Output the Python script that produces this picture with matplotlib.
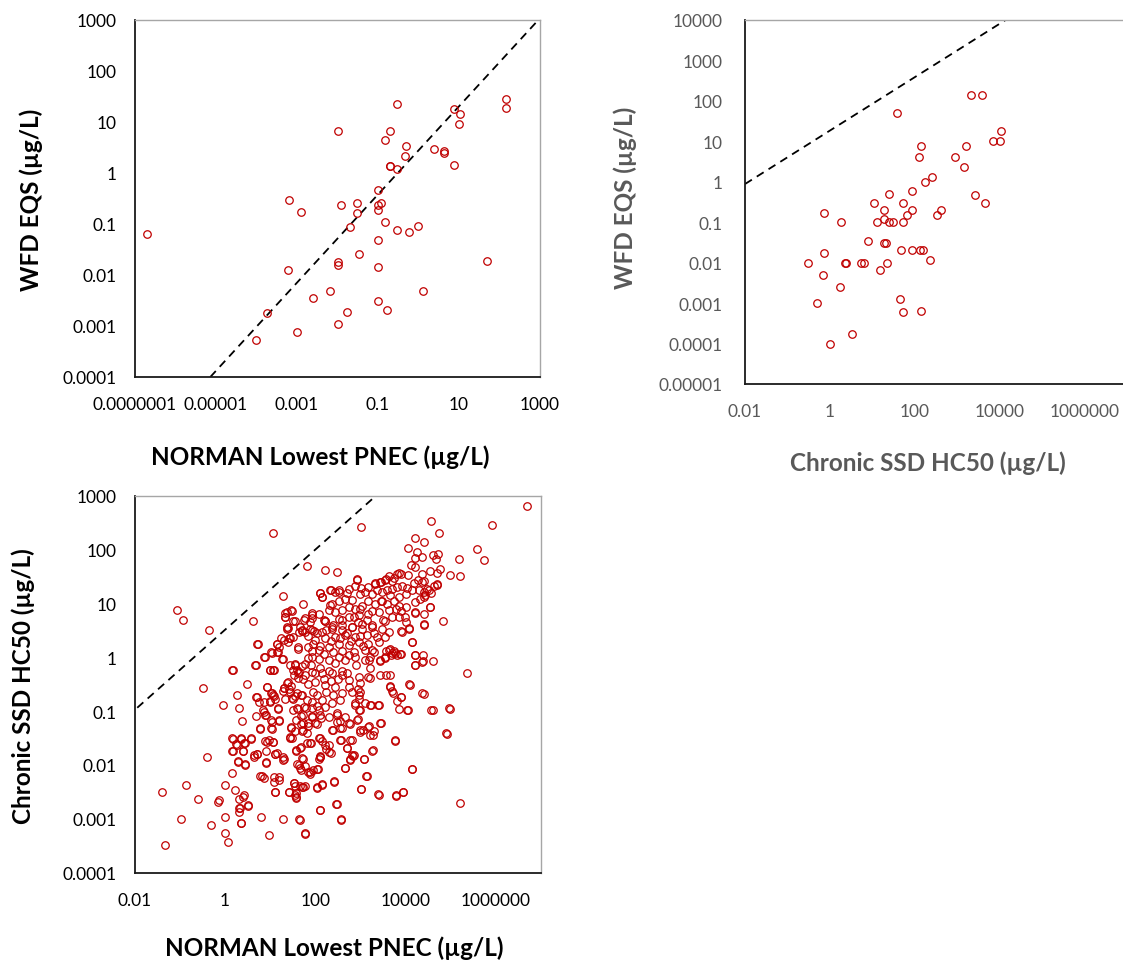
import numpy as np
import matplotlib
matplotlib.use("Agg")
import matplotlib.pyplot as plt
from matplotlib.ticker import FixedLocator, NullLocator

plt.rcParams['font.family'] = ['Lato', 'DejaVu Sans']

RED = "#C00000"
GREY_TXT = "#595959"
W, H = 1123, 962

# ── panel 1 : NORMAN lowest PNEC vs WFD EQS (µg/L) ─────────────────────
p1_pnec = [2e-7, 0.0102, 0.30, 0.20, 0.15, 0.51, 0.48, 0.20, 0.20, 0.30,
           2.4, 4.2, 4.2, 7.6, 10.5, 10.3, 7.5, 145, 145, 50,
           0.10, 0.10, 0.10, 0.123, 0.031, 0.031, 0.0123, 0.0204, 0.15, 0.30,
           0.60, 1.0, 0.10, 0.035, 0.0102, 0.0102, 0.10, 0.00066, 0.0013, 0.0006,
           0.0066, 0.0025, 0.00018, 0.0001, 0.00103, 0.0102, 0.0174, 0.10, 0.17, 1.29]
p1_eqs = [0.062, 6.6, 22, 6.5, 4.4, 3.4, 2.1, 1.39, 1.35, 1.21,
          2.9, 2.7, 2.5, 17.5, 14, 9.2, 1.45, 28, 18.7, 0.019,
          0.46, 0.23, 0.19, 0.26, 0.26, 0.16, 0.23, 0.087, 0.11, 0.076,
          0.068, 0.089, 0.049, 0.026, 0.018, 0.0155, 0.014, 0.30, 0.17, 0.0126,
          0.0049, 0.0035, 0.0018, 0.00054, 0.00076, 0.00107, 0.0019, 0.0031, 0.0021, 0.0048]
p1_line_x = [7.4e-6, 870]
p1_line_y = [1e-4, 950]

# ── panel 2 : chronic SSD HC50 vs WFD EQS (µg/L) ───────────────────────
p2_hc50 = [38, 2190, 3900, 10700, 7100, 10500, 1630, 910, 1480, 145,
           129, 262, 176, 89, 25, 2630, 4460, 11, 52, 18.5,
           85, 430, 330, 65, 19.5, 13, 25, 31, 54, 0.74,
           1.86, 8, 19.5, 21, 48, 85, 135, 158, 235, 0.74,
           0.30, 2.3, 2.45, 5.3, 6.5, 22.6, 15.5, 0.70, 1.7, 0.50,
           45, 52, 145, 3.3, 1.0]
p2_eqs = [50, 140, 140, 18, 10, 10, 7.6, 4.2, 2.3, 7.5,
          4.2, 1.3, 0.98, 0.60, 0.51, 0.48, 0.30, 0.30, 0.30, 0.20,
          0.20, 0.20, 0.15, 0.15, 0.12, 0.10, 0.10, 0.10, 0.10, 0.17,
          0.10, 0.035, 0.030, 0.030, 0.020, 0.020, 0.020, 0.020, 0.0118, 0.017,
          0.010, 0.010, 0.010, 0.010, 0.010, 0.010, 0.0066, 0.005, 0.0025, 0.001,
          0.0013, 0.00059, 0.00065, 0.00017, 0.0001]
p2_line_x = [0.01, 14000]
p2_line_y = [0.88, 10000]

# ── panel 3 : NORMAN lowest PNEC vs chronic SSD HC50, log10(µg/L) ──────
p3_pnec_log = [
    6.69, 4.56, 5.92, 1.06, 3.02, 4.74, 4.21, 4.40, 4.06, 5.58,
    4.26, 4.22, 4.37, 4.60, 4.73, 4.67, 5.19, 5.73, 1.83, 2.22,
    2.49, 4.13, 4.21, 4.77, 4.70, 4.55, 4.37, 4.99, 5.21, 3.86,
    4.05, 3.74, 3.57, 3.45, 3.32, 2.93, 4.27, 4.41, 4.70, 4.47,
    4.56, 4.40, 4.54, 4.21, 4.84, 4.40, 3.85, 3.99, 3.90, 4.07,
    4.14, 4.20, 4.38, 4.21, 4.38, 4.60, 5.37, 4.08, 4.37, 4.57,
    4.97, 4.90, 3.77, 4.15, 3.95, 3.80, 5.20, 3.40, 3.01, 3.15,
    3.27, 3.08, 3.28, 3.45, 3.20, 3.05, 2.99, 2.82, 2.81, 2.77,
    2.66, 2.57, 2.70, 2.48, 2.58, 2.41, 2.15, 2.10, 2.03, 1.88,
    2.06, 1.77, 1.65, 1.71, 1.57, 1.58, 1.53, 1.43, 1.28, 0.98,
    1.12, 1.19, 1.08, 0.86, 0.82, 0.77, 0.79, 0.51, 0.42, 0.31,
    0.32, 0.31, 0.35, 0.23, 0.15, 0.00, 0.00, 0.01, 0.07, -0.14,
    -0.15, -0.31, -0.60, -0.85, -0.97, -1.40, -1.33, -0.40, -0.48, -0.05,
    0.16, 0.27, 0.31, 0.39, 0.49, 0.16, 0.24, 0.16, 0.40, 0.35,
    0.44, 0.58, 0.29, 0.44, 0.64, 0.72, 0.77, 0.91, 0.90, 0.98,
    1.06, 1.10, 1.16, 1.30, 1.02, 1.03, 1.21, 0.90, 0.84, 0.69,
    0.70, 0.76, 0.93, 0.99, 1.02, 1.07, 1.17, 1.31, 1.28, 1.39,
    1.10, 0.69, 0.99, 1.06, 0.88, 0.73, 0.62, 1.02, 1.18, 1.27,
    1.21, 1.25, 1.15, 1.34, 1.33, 1.47, 1.39, 1.45, 1.39, 1.28,
    1.73, 1.94, 1.92, 1.77, 1.56, 1.71, 1.65, 1.88, 1.97, 2.11,
    2.15, 2.35, 2.53, 2.32, 2.22, 1.63, 1.92, 1.85, 1.55, 1.59,
    1.64, 1.53, 1.63, 1.47, 1.42, 1.56, 1.68, 1.83, 1.61, 1.49,
    1.79, 1.94, 2.03, 1.69, 1.94, 2.13, 2.05, 1.85, 1.68, 1.47,
    1.56, 1.74, 1.81, 1.45, 1.48, 1.90, 2.10, 2.16, 2.31, 2.24,
    2.34, 2.11, 2.09, 1.68, 1.58, 1.71, 1.65, 1.68, 2.60, 2.56,
    2.48, 2.40, 2.78, 2.94, 2.89, 3.00, 3.23, 3.40, 3.10, 2.96,
    3.00, 2.94, 2.99, 3.21, 3.43, 3.56, 3.65, 3.65, 3.70, 3.81,
    3.89, 3.85, 4.03, 4.06, 3.43, 3.55, 3.67, 3.76, 3.87, 3.56,
    3.65, 3.75, 3.26, 3.19, 3.22,
    # dense core, upper part
    3.89, 3.81, 3.63, 3.55, 3.70, 3.44, 3.33, 3.18, 3.02, 2.93,
    2.89, 2.74, 2.70, 2.52, 2.45, 2.33, 2.11, 2.15, 2.37, 2.52,
    2.67, 2.81, 3.00, 3.11, 3.26, 3.37, 3.48, 3.59, 3.70, 3.81,
    3.92, 4.03, 4.15, 4.29, 4.40, 4.51, 4.63, 4.70, 4.37, 4.18,
    4.00, 3.85, 3.74, 3.59, 3.48, 3.33, 3.18, 3.04, 2.89, 2.74,
    2.59, 2.45, 2.30, 2.08, 1.93, 1.89, 2.22, 2.52, 2.74, 2.96,
    3.18, 3.41, 3.63, 3.78, 4.00, 4.22, 4.33, 4.44, 4.55, 4.22,
    4.40, 4.00, 3.85, 3.55, 3.26, 3.04, 2.81, 2.59, 2.37,
    # dense core, middle
    1.93, 2.15, 2.37, 2.59, 2.81, 3.04, 3.26, 3.48, 3.63, 3.37,
    3.15, 2.89, 2.67, 2.45, 2.22, 2.00, 1.85, 2.08, 2.30, 2.52,
    2.74, 2.96, 3.18, 3.41, 3.55, 3.92, 4.07, 4.15, 4.40, 3.63,
    3.70, 3.81, 3.89, 3.55, 3.44, 3.22, 3.11, 3.30, 2.89, 2.74,
    2.52, 2.30, 2.08, 1.93, 1.78, 4.20, 4.22, 4.37, 3.18, 2.96,
    2.74, 2.59, 2.37, 2.15, 1.93, 2.00, 2.22, 2.45, 2.59, 2.81,
    2.96, 2.89, 2.96, 3.22, 3.41, 3.66, 3.72, 3.89, 4.11, 4.40,
    4.61, 4.99, 4.91, 3.76,
    # dense core, lower
    1.93, 2.08, 2.22, 2.37, 2.48, 2.30, 2.11, 1.93, 1.85, 2.00,
    2.48, 2.67, 2.74, 2.93, 3.00, 3.18, 3.30, 3.44, 3.22, 2.78,
    2.56, 2.37, 2.56, 2.08, 2.22, 1.89, 2.30, 2.70, 3.26, 2.85,
    2.11,
    # filling the core
    1.85, 1.95, 2.05, 2.10, 2.20, 2.25, 2.35, 2.40, 2.45, 2.55,
    2.60, 2.65, 2.70, 2.80, 2.85, 2.90, 3.00, 3.05, 3.10, 1.90,
    2.00, 2.10, 2.20, 2.30, 2.35, 2.50, 2.60, 2.75, 1.85, 1.95,
    2.05, 2.15, 2.25, 2.40, 2.55, 2.70, 2.95, 3.15, 3.30, 3.50,
    3.70, 3.90, 3.25, 3.45, 3.65, 3.00, 2.85, 2.60, 2.40, 2.20,
    # left side of the cloud
    -1.06, -0.92, -0.34, 1.38, 1.49, 1.34, 1.52, 1.76, 1.38, 1.67,
    0.71, 1.15, 1.30, 1.41, 1.52, 1.71, 1.38, 1.78, 0.87, 1.04,
    1.15, 1.28, 1.62, 0.67, 0.17, 1.01, 1.08, 1.45, 1.56, 1.71,
    1.52, 1.63, 1.78, 1.73, 0.93, 1.38, 1.30, 1.45, 1.60, 1.71,
    1.52, 1.34, 1.04, 1.08, 1.01, 0.86, 0.71, 0.86, 0.91, 1.17,
    1.21, 1.04, 0.78, 1.04, 1.52, 1.60, 1.75, 1.73, 1.58, 1.73,
    1.46, 1.71, 1.45, 0.18, 0.36, 0.58, 0.27, 0.43, 0.18, 0.40,
    0.71, 0.93, 1.06, 0.91, 1.12, 1.29, 1.58, 1.67, 1.82,
    # lower part
    0.30, 0.33, 0.36, 0.40, 0.51, 0.44, 0.64, 0.92, 1.08, 1.19,
    1.12, 1.29, 1.43, 1.54, 1.56, 1.56, 1.57, 1.67, 1.73, 1.66,
    1.78, 1.60, 1.73, 1.67, 1.78, 2.11, 2.04, 1.85, 1.89, 1.96,
    2.67, 2.78, 2.83, 3.08, 3.13, 3.01, 3.41, 3.79, 3.94, 4.15,
    2.41, 2.15, 2.04, 2.47, 2.10, 2.58, 1.78]
p3_hc50_log = [
    2.81, 2.53, 2.46, 2.31, 2.42, 2.30, 2.21, 2.14, 2.02, 2.01,
    1.96, 1.85, 1.87, 1.90, 1.91, 1.82, 1.83, 1.80, 1.69, 1.62,
    1.58, 1.71, 1.67, 1.63, 1.57, 1.61, 1.54, 1.52, 1.51, 1.57,
    1.53, 1.47, 1.45, 1.40, 1.38, 1.45, 1.44, 1.41, 1.35, 1.27,
    1.19, 1.12, 0.93, 0.82, 0.67, 0.62, 0.95, 0.75, 0.48, 0.54,
    0.29, 0.04, 0.04, -0.14, -0.07, -0.07, -0.30, -0.50, -0.67, -0.98,
    -0.95, -1.41, -1.54, -2.08, -2.50, -2.56, -2.71, -2.54, -2.45, -2.20,
    -1.72, -1.89, -1.44, -1.23, -1.28, -1.36, -1.39, -1.53, -1.81, -1.90,
    -2.06, -1.53, -1.69, -2.72, -3.01, -2.30, -2.35, -2.84, -2.43, -2.13,
    -2.07, -3.27, -3.01, -2.42, -2.52, -2.60, -2.33, -2.51, -3.00, -3.30,
    -2.51, -2.29, -2.31, -2.24, -2.21, -2.20, -2.96, -2.74, -2.56, -2.64,
    -2.80, -2.88, -3.08, -2.46, -2.16, -2.37, -2.96, -3.26, -3.43, -2.65,
    -2.69, -3.11, -2.64, -2.38, -3.00, -2.50, -3.48, -1.85, -0.58, -0.88,
    -0.23, -0.71, -0.94, -1.19, -0.50, -1.51, -1.62, -1.75, -1.75, -1.50,
    -1.59, -1.51, -1.93, -1.98, -1.82, -1.79, -1.32, -1.95, -1.56, -1.54,
    -1.57, -1.80, -1.78, -1.90, -1.32, -1.17, -1.16, -1.08, -0.99, -1.09,
    -0.74, -0.83, -0.55, -0.81, -0.67, -0.71, -0.95, -0.58, -0.62, -0.46,
    -0.77, -0.15, -0.23, -0.23, 0.00, 0.25, 0.67, 0.09, 0.09, -0.04,
    0.18, 0.36, 0.25, 0.75, 0.82, 0.87, 0.54, 0.35, 0.29, 1.14,
    0.99, 0.82, 0.72, 0.72, 0.67, 0.49, 0.46, 0.52, 0.49, 1.19,
    1.11, 1.25, 1.22, 0.97, 0.67, 0.18, 0.11, -0.02, -0.14, -0.23,
    -0.27, -0.33, -0.39, -0.54, -0.60, -0.73, -0.71, -0.79, -0.96, -0.76,
    -0.95, -0.95, -0.91, -1.10, -1.10, -1.13, -1.25, -1.28, -1.25, -1.30,
    -1.37, -1.36, -1.41, -1.49, -1.51, -1.60, -1.51, -1.56, -1.64, -1.70,
    -1.78, -1.84, -1.90, -1.67, -1.74, -1.87, -2.01, -2.09, -1.32, -1.18,
    -1.08, -1.35, -1.24, -1.14, -0.88, -0.98, -0.88, -0.88, -0.86, -0.78,
    -0.64, -0.59, -0.48, -0.38, -0.34, -0.34, -0.34, -0.54, -0.62, -0.81,
    -0.74, -0.96, -0.99, -0.99, -0.08, -0.02, 0.04, 0.08, 0.06, 0.11,
    0.15, 0.12, 0.14, -0.05, -0.20,
    # dense core, upper part
    1.55, 1.54, 1.50, 1.44, 1.41, 1.39, 1.36, 1.30, 1.29, 1.44,
    1.33, 1.26, 1.20, 1.24, 1.21, 1.24, 1.19, 1.12, 0.99, 1.05,
    1.08, 1.07, 1.18, 1.21, 1.18, 1.24, 1.21, 1.24, 1.27, 1.30,
    1.33, 1.28, 1.24, 1.24, 1.21, 1.24, 1.33, 1.36, 1.39, 1.37,
    1.18, 1.12, 1.05, 0.99, 1.05, 0.99, 1.05, 0.96, 0.90, 0.93,
    0.87, 0.84, 0.87, 0.81, 0.78, 0.65, 0.68, 0.71, 0.74, 0.78,
    0.81, 0.84, 0.87, 0.90, 0.93, 1.02, 1.08, 1.15, 0.93, 0.84,
    0.81, 0.65, 0.74, 0.68, 0.59, 0.62, 0.57, 0.59, 0.57,
    # dense core, middle
    0.50, 0.47, 0.53, 0.50, 0.56, 0.53, 0.56, 0.53, 0.47, 0.38,
    0.41, 0.38, 0.41, 0.38, 0.35, 0.31, 0.19, 0.13, 0.19, 0.25,
    0.22, 0.28, 0.25, 0.28, 0.38, 0.47, 0.53, 0.28, 0.59, 0.13,
    0.07, 0.04, 0.05, 0.01, -0.06, 0.01, 0.13, 0.10, 0.01, 0.04,
    0.01, -0.06, -0.03, 0.01, -0.12, 0.04, -0.15, -0.09, -0.37, -0.37,
    -0.43, -0.33, -0.30, -0.30, -0.27, -0.46, -0.52, -0.55, -0.67, -0.64,
    -0.71, -0.86, -0.98, -0.89, -0.89, -0.55, -0.66, -0.74, -0.51, -0.69,
    -0.99, -0.96, -1.42, -1.55,
    # dense core, lower
    -0.83, -0.98, -0.92, -0.86, -1.04, -1.11, -1.08, -1.11, -1.23, -1.23,
    -1.20, -1.11, -1.23, -1.17, -1.35, -1.29, -1.38, -1.23, -1.45, -1.54,
    -1.54, -1.35, -1.32, -1.51, -1.63, -1.60, -1.76, -1.69, -1.74, -1.82,
    -1.85,
    # filling the core
    0.40, 0.25, 0.45, 0.20, 0.05, 0.50, 0.30, 0.10, -0.10, 0.35,
    0.12, -0.05, 0.45, 0.30, 0.10, -0.15, 0.40, 0.20, -0.05, -0.15,
    -0.30, -0.20, -0.40, -0.25, -0.45, -0.40, -0.25, -0.55, -0.50, -0.65,
    -0.70, -0.80, -0.65, -0.70, -0.80, -0.30, 0.65, 0.70, 0.45, 0.70,
    0.75, 0.85, 0.85, 1.05, 1.15, 0.90, 0.75, 0.70, 0.60, 0.70,
    # left side of the cloud
    0.87, 0.70, 0.50, 0.84, 0.86, 0.75, 0.68, 0.70, 0.56, 0.57,
    0.24, 0.24, 0.31, 0.35, 0.38, 0.50, 0.53, 0.47, 0.00, 0.08,
    0.10, -0.03, 0.16, -0.15, -0.23, -0.24, -0.23, -0.15, -0.12, -0.17,
    -0.24, -0.30, -0.33, -0.40, -0.55, -0.48, -0.58, -0.64, -0.67, -0.70,
    -0.77, -0.77, -0.67, -0.72, -0.83, -0.84, -0.74, -1.01, -1.08, -0.96,
    -1.18, -1.20, -1.33, -1.34, -0.98, -0.95, -0.92, -1.08, -1.17, -1.23,
    -1.32, -1.38, -1.51, -1.52, -1.52, -1.52, -1.63, -1.60, -1.75, -1.74,
    -1.79, -1.57, -1.57, -1.74, -1.79, -1.85, -1.73, -1.69, -1.60,
    # lower part
    -1.94, -2.80, -3.08, -2.59, -2.76, -2.00, -1.86, -1.96, -2.22, -2.22,
    -2.51, -1.91, -2.51, -2.34, -2.40, -2.56, -2.62, -2.40, -2.42, -3.02,
    -3.28, -1.98, -1.90, -2.06, -2.03, -1.85, -2.08, -2.13, -2.17, -2.10,
    -2.06, -1.91, -1.84, -1.90, -2.21, -2.45, -2.56, -2.57, -2.51, -2.08,
    -2.31, -2.37, -2.42, -2.72, -2.84, -3.02, -2.40]
p3_line_x = [0.0115, 1900]
p3_line_y = [0.115, 890]


def style_axes(ax, xlim, ylim, xticks, yticks, color):
    ax.set_xscale("log")
    ax.set_yscale("log")
    ax.set_xlim(*xlim)
    ax.set_ylim(*ylim)
    ax.xaxis.set_major_locator(FixedLocator(xticks))
    ax.yaxis.set_major_locator(FixedLocator(yticks))
    ax.xaxis.set_minor_locator(NullLocator())
    ax.yaxis.set_minor_locator(NullLocator())
    ax.set_xticklabels([f"{t:.10f}".rstrip("0").rstrip(".") for t in xticks])
    ax.set_yticklabels([f"{t:.10f}".rstrip("0").rstrip(".") for t in yticks])
    ax.tick_params(axis="both", length=0, labelsize=12.5, labelcolor=color)
    ax.tick_params(axis="x", pad=14)
    ax.tick_params(axis="y", pad=13)
    for side in ["top", "right"]:
        ax.spines[side].set_color("#A6A6A6")
        ax.spines[side].set_linewidth(1.0)
    for side in ["left", "bottom"]:
        ax.spines[side].set_color("#1a1a1a")
        ax.spines[side].set_linewidth(1.3)


def scatter(ax, x, y):
    ax.plot(x, y, "o", mfc="none", mec=RED, ms=5.4, mew=0.9, ls="none")


def ref_line(ax, x, y):
    ax.plot(x, y, color="black", lw=1.3, ls=(0, (4.5, 3.2)))


fig = plt.figure(figsize=(W / 100, H / 100), dpi=100)

# panel 1
ax1 = fig.add_axes([134.5 / W, 1 - 378 / H, 405.5 / W, 357.3 / H])
style_axes(ax1, (1e-7, 1e3), (1e-4, 1e3),
           [1e-7, 1e-5, 1e-3, 1e-1, 1e1, 1e3],
           [1e-4, 1e-3, 1e-2, 1e-1, 1, 10, 100, 1000], "black")
ref_line(ax1, p1_line_x, p1_line_y)
scatter(ax1, p1_pnec, p1_eqs)

# panel 2 (runs past the right edge of the figure, as in the original)
ax2 = fig.add_axes([745 / W, 1 - 385 / H, 424 / W, 364 / H])
style_axes(ax2, (1e-2, 1e8), (1e-5, 1e4),
           [1e-2, 1, 1e2, 1e4, 1e6],
           [1e-5, 1e-4, 1e-3, 1e-2, 1e-1, 1, 10, 100, 1000, 10000], GREY_TXT)
ax2.tick_params(axis="y", pad=16)
ref_line(ax2, p2_line_x, p2_line_y)
scatter(ax2, p2_hc50, p2_eqs)

# panel 3
ax3 = fig.add_axes([134.5 / W, 1 - 873.5 / H, 406.5 / W, 376.8 / H])
style_axes(ax3, (1e-2, 1e7), (1e-4, 1e3),
           [1e-2, 1, 1e2, 1e4, 1e6],
           [1e-4, 1e-3, 1e-2, 1e-1, 1, 10, 100, 1000], "black")
ref_line(ax3, p3_line_x, p3_line_y)
scatter(ax3, 10 ** np.array(p3_pnec_log), 10 ** np.array(p3_hc50_log))

# axis titles
lab = dict(fontsize=17.5, fontweight="bold", ha="center", va="center")
fig.text(320 / W, 1 - 457 / H, "NORMAN Lowest PNEC (µg/L)", color="black", **lab)
fig.text(31 / W, 1 - 200 / H, "WFD EQS (µg/L)", rotation=90, color="black", **lab)
fig.text(928 / W, 1 - 463 / H, "Chronic SSD HC50 (µg/L)", color=GREY_TXT, **lab)
fig.text(625 / W, 1 - 198 / H, "WFD EQS (µg/L)", rotation=90, color=GREY_TXT, **lab)
fig.text(334 / W, 1 - 948 / H, "NORMAN Lowest PNEC (µg/L)", color="black", **lab)
fig.text(23.6 / W, 1 - 686 / H, "Chronic SSD HC50 (µg/L)", rotation=90,
         color="black", **lab)

fig.savefig("out.png", dpi=100)
